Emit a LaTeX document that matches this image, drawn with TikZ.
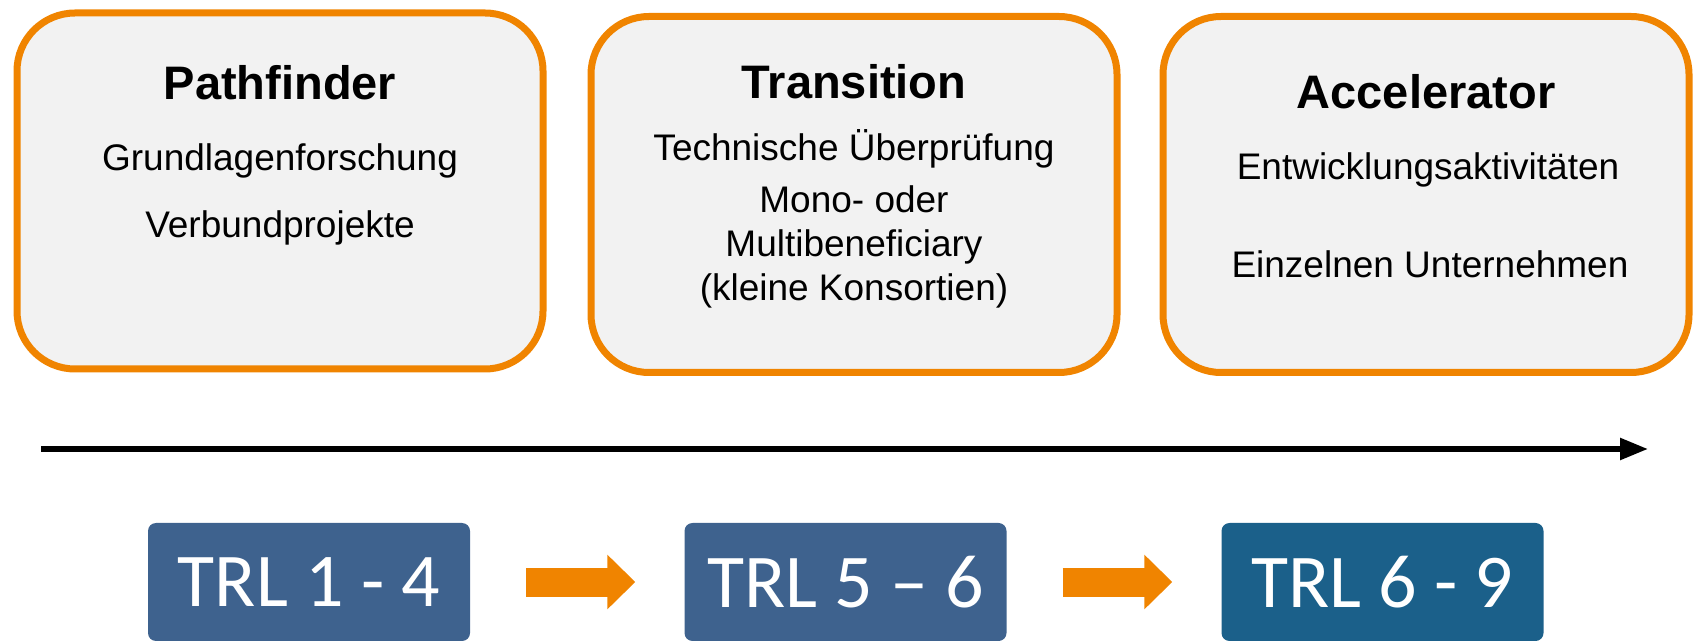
\documentclass[tikz,border=0pt]{standalone}
\usepackage{fontspec}
\setmainfont{Liberation Sans}
\newfontfamily\trlfont{Carlito}
\usetikzlibrary{arrows.meta,positioning}
\definecolor{phaseorange}{RGB}{240,132,0}
\definecolor{phasegray}{RGB}{242,242,242}
\definecolor{trlblue}{RGB}{62,98,142}
\definecolor{trlteal}{RGB}{27,96,138}
\begin{document}
\begin{tikzpicture}[x=1pt,y=1pt,
        phase/.style={draw=phaseorange,line width=7pt,fill=phasegray,rounded corners=58pt,
            minimum width=526pt,minimum height=356pt},
        title/.style={anchor=base,font=\fontsize{47}{56}\selectfont\bfseries},
        item/.style={anchor=base,font=\fontsize{37}{44}\selectfont},
        trl/.style={fill=trlblue,rounded corners=8pt,minimum width=322pt,minimum height=118pt,
            text=white,font=\trlfont\fontsize{76}{90}\selectfont},
        stepper/.style={draw=phaseorange,line width=29pt,-{Triangle[length=28pt,width=53pt]}},
        timeline/.style={line width=5.5pt,-{Triangle[length=28pt,width=21pt]}}]
    \useasboundingbox (0,0) rectangle (1694,640);
    % phases
    \node[phase] (pf) at (280,449) {};
    \node[phase] (tr) at (854,445.5) {};
    \node[phase] (ac) at (1426,445.5) {};
    \node[title] (pfname) at (280,540) {Pathfinder};
    \node[item] (pfa) at (280,469) {Grundlagenforschung};
    \node[item] (pfb) at (280,402) {Verbundprojekte};
    \node[title] (trname) at (854,541) {Transition};
    \node[item] (tra) at (854,479) {Technische Überprüfung};
    \node[item] (trb) at (854,427) {Mono- oder};
    \node[item] (trc) at (854,383) {Multibeneficiary};
    \node[item] (trd) at (854,339) {(kleine Konsortien)};
    \node[title] (acname) at (1426,531) {Accelerator};
    \node[item] (aca) at (1428,460) {Entwicklungsaktivitäten};
    \node[item] (acb) at (1430,362) {Einzelnen Unternehmen};
    % time axis
    \coordinate (tstart) at (41,191);
    \coordinate (tend) at (1648,191);
    \draw[timeline] (tstart) -- (tend);
    % TRL levels
    \node[trl] (t1) at (309,58) {TRL 1 - 4};
    \node[trl] (t2) at (845.5,58) {TRL 5 – 6};
    \node[trl,fill=trlteal] (t3) at (1382.5,58) {TRL 6 - 9};
    \draw[stepper,shorten <=56pt,shorten >=49pt] (t1) -- (t2);
    \draw[stepper,shorten <=56pt,shorten >=49pt] (t2) -- (t3);
\end{tikzpicture}
\end{document}
